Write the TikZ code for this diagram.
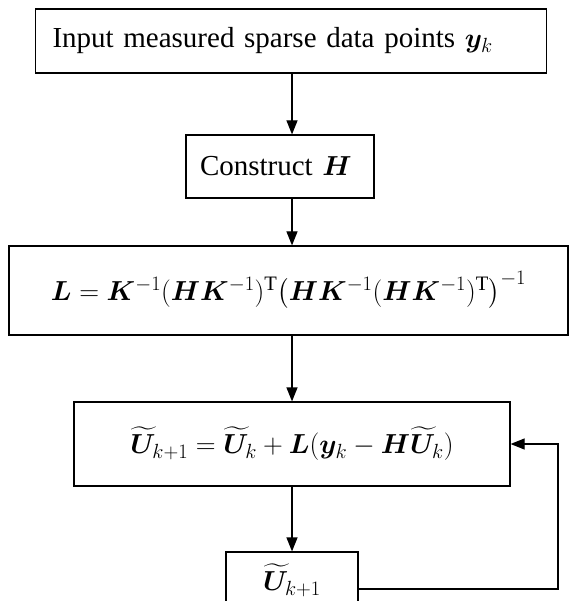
\RequirePackage{fix-cm}
\documentclass[tikz,border=0pt]{standalone}
\usepackage{amsmath,bm}
\usepackage{fontspec}
\setmainfont{Liberation Serif}
\usetikzlibrary{arrows.meta}
\DeclareMathSizes{29}{27.5}{20.5}{15}

\begin{document}
\begin{tikzpicture}[x=1pt,y=-1pt,
  blk/.style={draw,line width=1.2pt,inner sep=0pt,font=\fontsize{29}{34}\selectfont},
  flow/.style={line width=1.2pt,-{Triangle[length=14pt,width=11pt]}}]
\useasboundingbox (0,0) rectangle (569,601);
\clip (0,0) rectangle (569,601);
\coordinate (axis) at (292,0);
\coordinate (loop) at (558,0);
% process blocks
\node [blk,text width=477pt,inner xsep=17pt,minimum height=64pt,align=left] (input) at (291,41)
  {Input measured sparse data points $\bm{y}_k$};
\node [blk,text width=160pt,inner xsep=14pt,minimum height=63pt,align=left] (constr) at (280,166.5)
  {Construct $\bm{H}$};
\node [blk,minimum width=559pt,minimum height=89pt] (gain) at (288.5,290.5)
  {$\bm{L}=\bm{K}^{-1}(\bm{H}\bm{K}^{-1})^{\mathrm{T}}\bigl(\bm{H}\bm{K}^{-1}(\bm{H}\bm{K}^{-1})^{\mathrm{T}}\bigr)^{-1}$};
\node [blk,minimum width=436pt,minimum height=84pt] (update) at (292,444)
  {$\widetilde{\bm{U}}_{k+1}=\widetilde{\bm{U}}_k+\bm{L}(\bm{y}_k-\bm{H}\widetilde{\bm{U}}_k)$};
\node [blk,minimum width=132pt,minimum height=56pt] (result) at (292,580)
  {$\widetilde{\bm{U}}_{k+1}$};
% connectors
\draw [flow] (axis |- input.south) -- (axis |- constr.north);
\draw [flow] (axis |- constr.south) -- (axis |- gain.north);
\draw [flow] (axis |- gain.south) -- (axis |- update.north);
\draw [flow] (update.south) -- (result.north);
\draw [flow] ([yshift=-9pt]result.east) -- ([yshift=-9pt]result.east -| loop) |- (update.east);
\end{tikzpicture}
\end{document}
